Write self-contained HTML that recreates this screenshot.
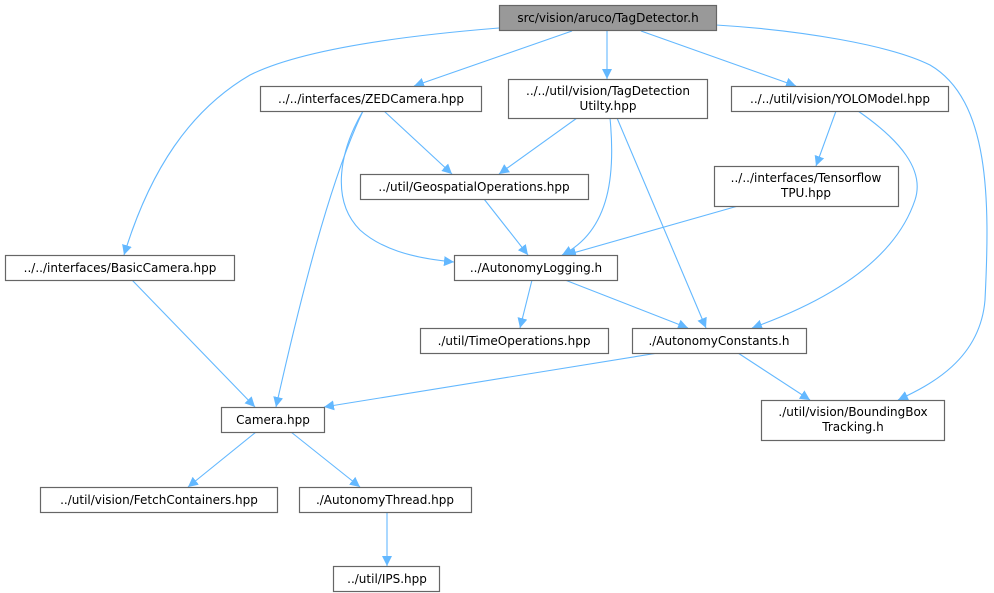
<!DOCTYPE html>
<html><head><meta charset="utf-8"><style>
body{margin:0;background:#fff}
svg{display:block}
text{font-family:"DejaVu Sans","Liberation Sans",sans-serif;font-size:12px;fill:#000}
.b{fill:#fff;stroke:#666;stroke-width:1.2}
.e{fill:none;stroke:#63b8ff;stroke-width:1.1}
</style></head><body>
<svg width="994" height="593" viewBox="0 0 994 593">
<defs><marker id="a" viewBox="0 0 10 10" refX="10" refY="5" markerWidth="10" markerHeight="10" markerUnits="userSpaceOnUse" orient="auto"><path d="M0,0L10,5L0,10z" fill="#63b8ff"/></marker></defs>
<g class="e" marker-end="url(#a)">
<path d="M499,28C400,36 300,50 250,75C190,110 150,170 124,255"/>
<path d="M572,31L414,86"/>
<path d="M607,31L607,79"/>
<path d="M641,31L796,86"/>
<path d="M716,25C800,30 890,45 930,65C990,100 990,200 985,300C980,360 930,385 898,400"/>
<path d="M384,111L452,174"/>
<path d="M363,111C340,150 330,200 360,230C380,248 410,258 454,262"/>
<path d="M363,111C330,180 300,300 276,407"/>
<path d="M577,118L499,174"/>
<path d="M610,118C615,170 612,230 562,255"/>
<path d="M617,118L706,328"/>
<path d="M836,111L816,166"/>
<path d="M858,111C900,140 925,170 915,200C895,260 830,300 752,328"/>
<path d="M738,206L566,255"/>
<path d="M484,199L528,255"/>
<path d="M532,280L520,328"/>
<path d="M565,280L688,328"/>
<path d="M132,280L255,407"/>
<path d="M658,353L324,407"/>
<path d="M738,353L810,400"/>
<path d="M256,432L188,487"/>
<path d="M291,432L360,487"/>
<path d="M387,512L387,566"/>
</g>
<rect x="499.5" y="5.5" width="217" height="25" fill="#999" stroke="#666" stroke-width="1.2"/>
<text x="608" y="22" text-anchor="middle">src/vision/aruco/TagDetector.h</text>
<rect class="b" x="260.5" y="86.5" width="221" height="25"/><text x="371" y="103" text-anchor="middle">../../interfaces/ZEDCamera.hpp</text>
<rect class="b" x="508.5" y="79.5" width="199" height="39"/><text x="608" y="95" text-anchor="middle">../../util/vision/TagDetection</text><text x="608" y="110" text-anchor="middle">Utilty.hpp</text>
<rect class="b" x="731.5" y="86.5" width="217" height="25"/><text x="840" y="103" text-anchor="middle">../../util/vision/YOLOModel.hpp</text>
<rect class="b" x="360.5" y="174.5" width="228" height="25"/><text x="474" y="191" text-anchor="middle">../util/GeospatialOperations.hpp</text>
<rect class="b" x="714.5" y="166.5" width="184" height="40"/><text x="806" y="182" text-anchor="middle">../../interfaces/Tensorflow</text><text x="806" y="197" text-anchor="middle">TPU.hpp</text>
<rect class="b" x="5.5" y="255.5" width="229" height="25"/><text x="120" y="272" text-anchor="middle">../../interfaces/BasicCamera.hpp</text>
<rect class="b" x="454.5" y="255.5" width="163" height="25"/><text x="536" y="272" text-anchor="middle">../AutonomyLogging.h</text>
<rect class="b" x="420.5" y="328.5" width="188" height="25"/><text x="514" y="345" text-anchor="middle">./util/TimeOperations.hpp</text>
<rect class="b" x="632.5" y="328.5" width="174" height="25"/><text x="719" y="345" text-anchor="middle">./AutonomyConstants.h</text>
<rect class="b" x="221.5" y="407.5" width="103" height="25"/><text x="273" y="424" text-anchor="middle">Camera.hpp</text>
<rect class="b" x="761.5" y="400.5" width="183" height="40"/><text x="853" y="416" text-anchor="middle">./util/vision/BoundingBox</text><text x="853" y="431" text-anchor="middle">Tracking.h</text>
<rect class="b" x="40.5" y="487.5" width="237" height="25"/><text x="159" y="504" text-anchor="middle">../util/vision/FetchContainers.hpp</text>
<rect class="b" x="299.5" y="487.5" width="172" height="25"/><text x="385" y="504" text-anchor="middle">./AutonomyThread.hpp</text>
<rect class="b" x="333.5" y="566.5" width="106" height="25"/><text x="387" y="583" text-anchor="middle">../util/IPS.hpp</text>
</svg>
</body></html>
